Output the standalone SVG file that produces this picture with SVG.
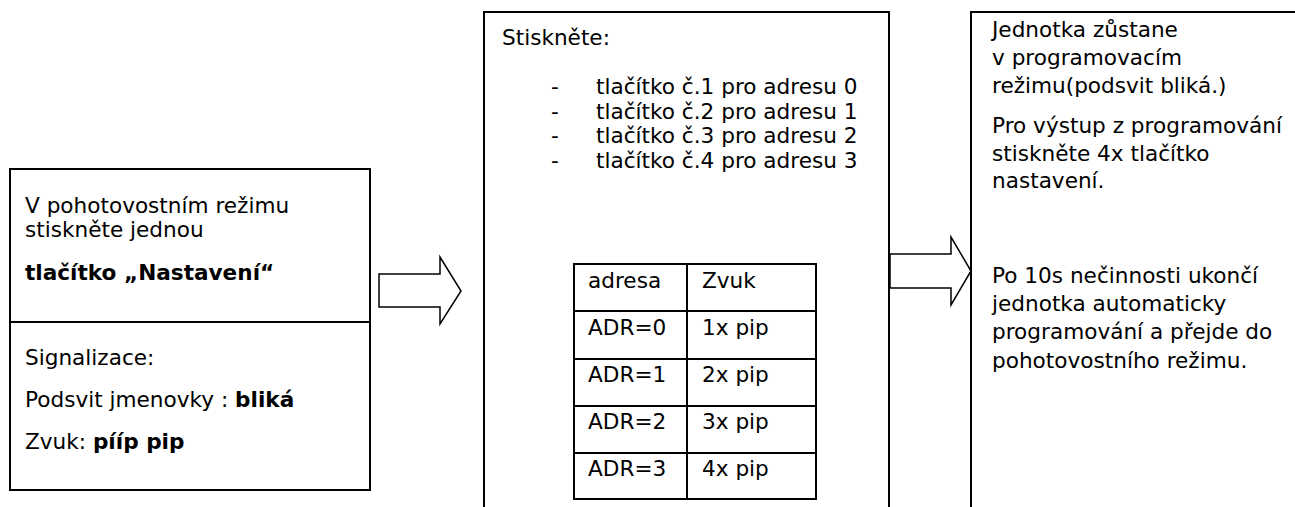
<svg xmlns="http://www.w3.org/2000/svg" width="1295" height="507" viewBox="0 0 1295 507">
<style>
text{font-family:"DejaVu Sans","Liberation Sans",sans-serif;font-size:21.6px;fill:#000}
.b{font-weight:bold}
.box{fill:#fff;stroke:#000;stroke-width:2}
.arr{fill:#fff;stroke:#000;stroke-width:1.5;stroke-linejoin:miter}
.ln{stroke:#000;stroke-width:2}
</style>
<rect width="1295" height="507" fill="#fff"/>
<g id="node-start">
<rect class="box" x="10" y="169" width="360" height="321"/>
<line class="ln" x1="10" y1="322" x2="370" y2="322"/>
<text x="25" y="213">V pohotovostním režimu</text>
<text x="25" y="237">stiskněte jednou</text>
<text class="b" x="25" y="280">tlačítko „Nastavení“</text>
<text x="25" y="365">Signalizace:</text>
<text x="25" y="407">Podsvit jmenovky : <tspan class="b">bliká</tspan></text>
<text x="25" y="449">Zvuk: <tspan class="b">pííp pip</tspan></text>
</g>
<g id="node-press">
<rect class="box" x="484" y="12" width="405" height="500"/>
<text x="502" y="45">Stiskněte:</text>
<text x="551" y="94">-</text><text x="596" y="94">tlačítko č.1 pro adresu 0</text>
<text x="551" y="119">-</text><text x="596" y="119">tlačítko č.2 pro adresu 1</text>
<text x="551" y="143">-</text><text x="596" y="143">tlačítko č.3 pro adresu 2</text>
<text x="551" y="168">-</text><text x="596" y="168">tlačítko č.4 pro adresu 3</text>
<g id="table">
<rect class="box" x="574" y="264" width="242" height="235"/>
<line class="ln" x1="687" y1="264" x2="687" y2="499"/>
<line class="ln" x1="574" y1="311" x2="816" y2="311"/>
<line class="ln" x1="574" y1="359" x2="816" y2="359"/>
<line class="ln" x1="574" y1="406" x2="816" y2="406"/>
<line class="ln" x1="574" y1="453" x2="816" y2="453"/>
<text x="588" y="288">adresa</text><text x="702" y="288">Zvuk</text>
<text x="588" y="335">ADR=0</text><text x="702" y="335">1x pip</text>
<text x="588" y="382">ADR=1</text><text x="702" y="382">2x pip</text>
<text x="588" y="429">ADR=2</text><text x="702" y="429">3x pip</text>
<text x="588" y="476">ADR=3</text><text x="702" y="476">4x pip</text>
</g>
</g>
<g id="node-result">
<rect class="box" x="971" y="12" width="340" height="500"/>
<text x="992" y="37">Jednotka zůstane</text>
<text x="992" y="65">v programovacím</text>
<text x="992" y="93">režimu(podsvit bliká.)</text>
<text x="992" y="133">Pro výstup z programování</text>
<text x="992" y="161">stiskněte 4x tlačítko</text>
<text x="992" y="188">nastavení.</text>
<text x="992" y="283">Po 10s nečinnosti ukončí</text>
<text x="992" y="311">jednotka automaticky</text>
<text x="992" y="339">programování a přejde do</text>
<text x="992" y="368">pohotovostního režimu.</text>
</g>
<g id="connectors">
<polygon class="arr" points="379,274 440,274 440,257 461,291 440,324 440,307 379,307"/>
<polygon class="arr" points="890,254 951,254 951,237 971,271 951,305 951,288 890,288"/>
</g>
</svg>
